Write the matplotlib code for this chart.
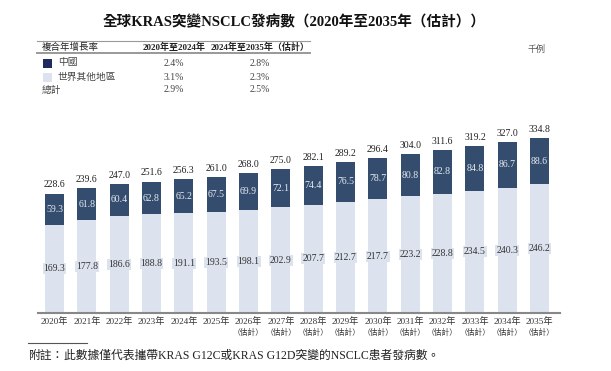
import matplotlib
matplotlib.use("Agg")
import matplotlib.pyplot as plt
from matplotlib.lines import Line2D
from matplotlib.patches import Rectangle
from matplotlib.transforms import blended_transform_factory

plt.rcParams["font.family"] = ["Liberation Serif", "Noto Sans CJK TC"]

years = ["2020年", "2021年", "2022年", "2023年", "2024年", "2025年", "2026年", "2027年",
         "2028年", "2029年", "2030年", "2031年", "2032年", "2033年", "2034年", "2035年"]
estimated = [False] * 6 + [True] * 10
china = [59.3, 61.8, 60.4, 62.8, 65.2, 67.5, 69.9, 72.1, 74.4, 76.5, 78.7, 80.8, 82.8, 84.8, 86.7, 88.6]
rest_of_world = [169.3, 177.8, 186.6, 188.8, 191.1, 193.5, 198.1, 202.9, 207.7, 212.7, 217.7, 223.2,
                 228.8, 234.5, 240.3, 246.2]
totals = [228.6, 239.6, 247.0, 251.6, 256.3, 261.0, 268.0, 275.0, 282.1, 289.2, 296.4, 304.0,
          311.6, 319.2, 327.0, 334.8]

cagr_rows = ["中國", "世界其他地區", "總計"]
cagr_2020_2024 = ["2.4%", "3.1%", "2.9%"]
cagr_2024_2035 = ["2.8%", "2.3%", "2.5%"]

DARK = "#344d6e"
LIGHT = "#dce3ee"
LEGEND_DARK = "#1f2b5e"
W, H = 611, 371


def fx(px):
    return px / W


def fy(py):
    return 1 - py / H


fig = plt.figure(figsize=(W / 100, H / 100), dpi=100)

# title
fig.text(fx(294), fy(22), "全球KRAS突變NSCLC發病數（2020年至2035年（估計））",
         ha="center", va="center", fontsize=10.5, fontweight="bold", color="#111111")

# CAGR table
fig.add_artist(Line2D([fx(37), fx(310)], [fy(40.5), fy(40.5)], color="#999999", lw=0.8))
fig.add_artist(Line2D([fx(37), fx(310)], [fy(53), fy(53)], color="#999999", lw=1.4))
fig.text(fx(42), fy(47), "複合年增長率", ha="left", va="center", fontsize=6.8, color="#222222")
fig.text(fx(174), fy(47), "2020年至2024年", ha="center", va="center", fontsize=6.5,
         fontweight="bold", color="#222222")
fig.text(fx(309), fy(47), "2024年至2035年（估計）", ha="right", va="center", fontsize=6.5,
         fontweight="bold", color="#222222")

row_y = [63, 77, 90]
for i, name in enumerate(cagr_rows):
    if i < 2:
        colour = LEGEND_DARK if i == 0 else LIGHT
        fig.add_artist(Rectangle((fx(43), fy(row_y[i] + 4.5)), fx(9), 9 / H,
                                 facecolor=colour, edgecolor="none"))
        fig.text(fx(58), fy(row_y[i]), name, ha="left", va="center", fontsize=7, color="#444444")
    else:
        fig.text(fx(42), fy(row_y[i]), name, ha="left", va="center", fontsize=7, color="#444444")
    fig.text(fx(174), fy(row_y[i]), cagr_2020_2024[i], ha="center", va="center", fontsize=7,
             color="#444444")
    fig.text(fx(260), fy(row_y[i]), cagr_2024_2035[i], ha="center", va="center", fontsize=7,
             color="#444444")

fig.text(fx(537), fy(49), "千例", ha="center", va="center", fontsize=6.5, style="italic",
         color="#555555")

# bars
ax = fig.add_axes([fx(38), 58 / H, 522 / W, 213 / H])
x = list(range(len(years)))
ax.bar(x, rest_of_world, width=0.59, color=LIGHT)
ax.bar(x, china, width=0.59, bottom=rest_of_world, color=DARK)

for i in x:
    ax.text(i, rest_of_world[i] / 2, f"{rest_of_world[i]:.1f}", ha="center", va="center",
            fontsize=7, color="#333333",
            bbox=dict(boxstyle="square,pad=0.1", facecolor=LIGHT, edgecolor="none"))
    ax.text(i, rest_of_world[i] + china[i] / 2, f"{china[i]:.1f}", ha="center", va="center",
            fontsize=7, color="#e6eaf0")
    ax.text(i, totals[i] + 8, f"{totals[i]:.1f}", ha="center", va="bottom", fontsize=7,
            color="#222222")

ax.set_xticks(x)
ax.set_xticklabels(years, fontsize=6.6, color="#333333")
ax.tick_params(axis="x", length=0, pad=3)
below = blended_transform_factory(ax.transData, fig.transFigure)
for i in x:
    if estimated[i]:
        ax.text(i, fy(333), "（估計）", transform=below, ha="center", va="center",
                fontsize=5.6, color="#333333")
ax.set_yticks([])
ax.set_xlim(-0.51, 15.63)
ax.set_ylim(0, 408)
for side in ["top", "left", "right"]:
    ax.spines[side].set_visible(False)
ax.spines["bottom"].set_color("#888888")
ax.spines["bottom"].set_linewidth(1.5)

# footnote
fig.add_artist(Line2D([fx(28), fx(87)], [fy(343), fy(343)], color="#555555", lw=0.8))
fig.text(fx(28), fy(356), "附註：", ha="left", va="center", fontsize=8.5, style="italic",
         color="#222222")
fig.text(fx(64), fy(356), "此數據僅代表攜帶KRAS G12C或KRAS G12D突變的NSCLC患者發病數。",
         ha="left", va="center", fontsize=8.5, color="#222222")

fig.savefig("out.png", dpi=100)
